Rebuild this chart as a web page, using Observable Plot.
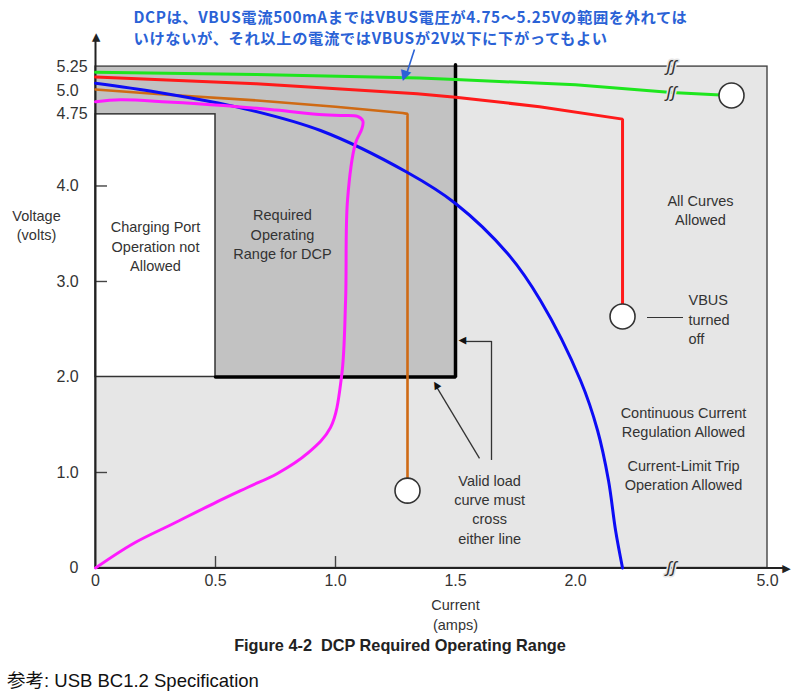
<!DOCTYPE html>
<html><head><meta charset="utf-8">
<script src="https://cdn.jsdelivr.net/npm/d3@7"></script>
<script src="https://cdn.jsdelivr.net/npm/@observablehq/plot@0.6"></script>
<style>
body{margin:0;background:#fff;font-family:"Liberation Sans",Arial,sans-serif;}
#wrap{position:relative;width:800px;height:691px;overflow:hidden;}
#chart{position:absolute;left:0;top:0;}
#chart g[fill="#2a62d6"] text{letter-spacing:0.6px;}
#caption{position:absolute;left:0;width:800px;top:636px;text-align:center;font-weight:bold;font-size:16.3px;color:#222;}
#source{position:absolute;left:7px;top:666px;font-size:18.5px;color:#111;font-family:"Liberation Sans","Noto Sans CJK JP",sans-serif;}
</style></head><body>
<div id="wrap"><div id="chart"></div>
<div id="caption">Figure 4-2&nbsp;&nbsp;DCP Required Operating Range</div>
<div id="source">参考: USB BC1.2 Specification</div></div>
<script>
// ---- axes / ticks ----
const xTicks = [0, 0.5, 1.0, 1.5, 2.0, 5.0];
const xTickLabels = ["0", "0.5", "1.0", "1.5", "2.0", "5.0"];
const xTickMarks = [0.5, 1.0];
const yTicks = [1, 2, 3, 4, 4.75, 5.0, 5.25];
const yTickLabels = ["1.0", "2.0", "3.0", "4.0", "4.75", "5.0", "5.25"];
const yZeroLabel = ["0"];
const yTickMarks = [1, 3, 4];
const xBreak = 2.4;
const xMax = 5.0;
const yMax = 5.25;

// ---- regions ----
const regionAll = [{x1: 0, x2: 5.0, y1: 0, y2: 5.25}];
const regionDCP = [{x1: 0, x2: 1.5, y1: 2.0, y2: 5.25}];
const regionNotAllowed = [{x1: 0, x2: 0.5, y1: 2.0, y2: 4.75}];
const dcpBoundary = [[0.5, 2.0], [1.5, 2.0], [1.5, 5.27]];

// ---- load curves [current A, voltage V] ----
const greenCurve = [[0, 5.19], [0.67, 5.168], [1.35, 5.13], [1.5, 5.115], [2.0, 5.06], [2.4, 4.98], [4.0, 4.948]];
const redCurve = [[0, 5.14], [0.67, 5.07], [1.34, 4.965], [1.5, 4.93], [1.85, 4.83], [2.196, 4.70], [2.196, 2.634]];
const blueCurve = [[0, 5.076], [0.258, 4.982], [0.617, 4.812], [0.9375, 4.581], [1.30, 4.141], [1.5, 3.817], [1.717, 3.293], [1.854, 2.801], [2.021, 1.963], [2.092, 1.44], [2.1375, 0.916], [2.167, 0.393], [2.196, 0]];
const orangeCurve = [[0, 5.01], [0.3, 4.955], [0.675, 4.895], [1.0, 4.83], [1.28, 4.765], [1.3, 4.755], [1.3, 0.81]];
const magentaCurve = [[0, 0], [0.158, 0.257], [0.325, 0.466], [0.492, 0.675], [0.633, 0.843], [0.758, 0.99], [0.883, 1.2], [0.979, 1.47], [1.025, 2.0], [1.042, 2.8], [1.05, 3.85], [1.083, 4.445], [1.11, 4.6], [1.114, 4.68], [1.092, 4.728], [1.021, 4.738], [0.95, 4.745], [0.75, 4.795], [0.533, 4.843], [0.3, 4.88], [0.104, 4.902], [0, 4.882]];
const curveEnds = [{x: 4.025, y: 4.948}, {x: 2.196, y: 2.634}, {x: 1.3, y: 0.81}];

// ---- annotations ----
const noteJa = "DCPは、VBUS電流500mAまではVBUS電圧が4.75〜5.25Vの範囲を外れては\nいけないが、それ以上の電流ではVBUSが2V以下に下がってもよい";
const noteShaft = [{x1: 1.329, y1: 5.43, x2: 1.292, y2: 5.14}];
const noteHead = [{x: 1.2898, y: 5.146, angle: 108}];
const regionLabels = [
  {x: 0.25, y: 3.377, text: "Charging Port\nOperation not\nAllowed"},
  {x: 0.779, y: 3.503, text: "Required\nOperating\nRange for DCP"},
  {x: 3.185, y: 3.759, text: "All Curves\nAllowed"},
  {x: 2.725, y: 1.534, text: "Continuous Current\nRegulation Allowed"},
  {x: 2.725, y: 0.979, text: "Current-Limit Trip\nOperation Allowed"},
  {x: 1.642, y: 0.623, text: "Valid load\ncurve must\ncross\neither line"}
];
const vbusLabel = [{x: 2.86, y: 2.612, text: "VBUS\nturned\noff"}];
const vbusDash = [{x1: 2.3, x2: 2.725, y: 2.623}];
const validStem = [{x: 1.65, y1: 1.126, y2: 2.372}];
const validShafts = [{x1: 1.65, y1: 2.372, x2: 1.53, y2: 2.372}, {x1: 1.6, y1: 1.147, x2: 1.418, y2: 1.91}];
const validHeads = [{x: 1.529, y: 2.372, angle: 180}, {x: 1.417, y: 1.912, angle: -121}];
const axisShafts = [{x1: 0, y1: 0, x2: 0, y2: 5.54}, {x1: 0, y1: 0, x2: 5.5, y2: 0}];
const axisHeads = [{x: 0, y: 5.555, angle: -90}, {x: 5.515, y: 0, angle: 0}];
const breakMarks = [{x: 2.4, y: 5.25}, {x: 2.4, y: 4.98}, {x: 2.4, y: 0}];
const xTitle = [{x: 1.5, y: 0, text: "Current\n(amps)"}];
const yTitle = [{x: 0, y: 3.6, text: "Voltage\n(volts)"}];

const BG = "#e6e6e6";
const pt = {x: d => d[0], y: d => d[1]};
const head = (data, size, color) => Plot.text(data, {x: "x", y: "y", rotate: "angle", text: () => "▶", fontSize: size, fill: color, fontFamily: "'DejaVu Sans', sans-serif", lineAnchor: "middle"});

const chart = Plot.plot({
  width: 800,
  height: 635,
  marginLeft: 95, marginRight: 33, marginTop: 66, marginBottom: 68,
  x: {type: "linear", domain: [0, xBreak, xMax], range: [95, 671, 767], axis: null},
  y: {type: "linear", domain: [0, yMax], range: [567.5, 66.1], axis: null},
  style: {fontFamily: "'Liberation Sans', Arial, sans-serif", background: "transparent", overflow: "visible"},
  marks: [
    Plot.rect(regionAll, {x1: "x1", x2: "x2", y1: "y1", y2: "y2", fill: BG}),
    Plot.rect(regionDCP, {x1: "x1", x2: "x2", y1: "y1", y2: "y2", fill: "#c2c2c2"}),
    Plot.rect(regionNotAllowed, {x1: "x1", x2: "x2", y1: "y1", y2: "y2", fill: "white", stroke: "#333", strokeWidth: 1.5}),
    Plot.rect(regionAll, {x1: "x1", x2: "x2", y1: "y1", y2: "y2", fill: "none", stroke: "#444", strokeWidth: 1.4}),
    // tick marks (inward)
    Plot.ruleX(xTickMarks, {x: d => d, y1: 0, y2: 0.12, stroke: "#444", strokeWidth: 1.4}),
    Plot.ruleY(yTickMarks, {y: d => d, x1: 0, x2: 0.05, stroke: "#444", strokeWidth: 1.4}),
    // axes with arrowheads
    Plot.link(axisShafts, {x1: "x1", y1: "y1", x2: "x2", y2: "y2", stroke: "#222", strokeWidth: 2}),
    head(axisHeads, 11, "#222"),
    // DCP required boundary
    Plot.line(dcpBoundary, {...pt, stroke: "black", strokeWidth: 3.5, strokeLinejoin: "miter"}),
    // load curves
    Plot.line(greenCurve, {...pt, stroke: "#1ee61e", strokeWidth: 3}),
    Plot.line(redCurve, {...pt, stroke: "#ff1a1a", strokeWidth: 3, strokeLinejoin: "miter"}),
    Plot.line(orangeCurve, {...pt, stroke: "#cf6a14", strokeWidth: 2.6, strokeLinejoin: "miter"}),
    Plot.line(blueCurve, {...pt, stroke: "#0c0cf5", strokeWidth: 3, curve: "catmull-rom"}),
    Plot.line(magentaCurve, {...pt, stroke: "#ff1aff", strokeWidth: 3, curve: "catmull-rom"}),
    Plot.dot(curveEnds, {x: "x", y: "y", r: 12.5, fill: "white", stroke: "#333", strokeWidth: 1.6}),
    // axis breaks
    Plot.text(breakMarks, {x: "x", y: "y", text: () => "ʃʃ", fontSize: 17, fill: "#333", stroke: BG, strokeWidth: 3, fontStyle: "italic"}),
    // tick labels
    Plot.text(xTicks, {x: d => d, y: 0, text: (d, i) => xTickLabels[i], dy: 13, fontSize: 16, fill: "#333"}),
    Plot.text(yTicks, {x: 0, y: d => d, text: (d, i) => yTickLabels[i], dx: -39, textAnchor: "start", fontSize: 16, fill: "#333"}),
    Plot.text(yZeroLabel, {x: 0, y: 0, text: d => d, dx: -17, textAnchor: "end", fontSize: 16, fill: "#333"}),
    // axis titles
    Plot.text(xTitle, {x: "x", y: "y", text: "text", dy: 46, fontSize: 14.5, fill: "#333", lineHeight: 1.35}),
    Plot.text(yTitle, {x: "x", y: "y", text: "text", dx: -59, fontSize: 14.5, fill: "#333", lineHeight: 1.35}),
    // region labels
    Plot.text(regionLabels, {x: "x", y: "y", text: "text", fontSize: 14.5, fill: "#333", lineHeight: 1.33}),
    Plot.text(vbusLabel, {x: "x", y: "y", text: "text", textAnchor: "start", fontSize: 14.5, fill: "#333", lineHeight: 1.33}),
    Plot.ruleY(vbusDash, {y: "y", x1: "x1", x2: "x2", stroke: "#333", strokeWidth: 1.2}),
    Plot.ruleX(validStem, {x: "x", y1: "y1", y2: "y2", stroke: "#333", strokeWidth: 1.3}),
    Plot.link(validShafts, {x1: "x1", y1: "y1", x2: "x2", y2: "y2", stroke: "#333", strokeWidth: 1.3}),
    head(validHeads, 10, "#111"),
    // Japanese note and its arrow
    Plot.text([noteJa], {frameAnchor: "top-left", text: d => d, dx: 38, dy: -39.5, lineAnchor: "middle", textAnchor: "start", fontSize: 15.3, fontWeight: "bold", fill: "#2a62d6", fontFamily: "'Noto Sans CJK JP', sans-serif", lineHeight: 1.38}),
    Plot.link(noteShaft, {x1: "x1", y1: "y1", x2: "x2", y2: "y2", stroke: "#2a62d6", strokeWidth: 1.6}),
    head(noteHead, 14, "#2a62d6")
  ]
});
document.getElementById("chart").appendChild(chart);
</script>
</body></html>
